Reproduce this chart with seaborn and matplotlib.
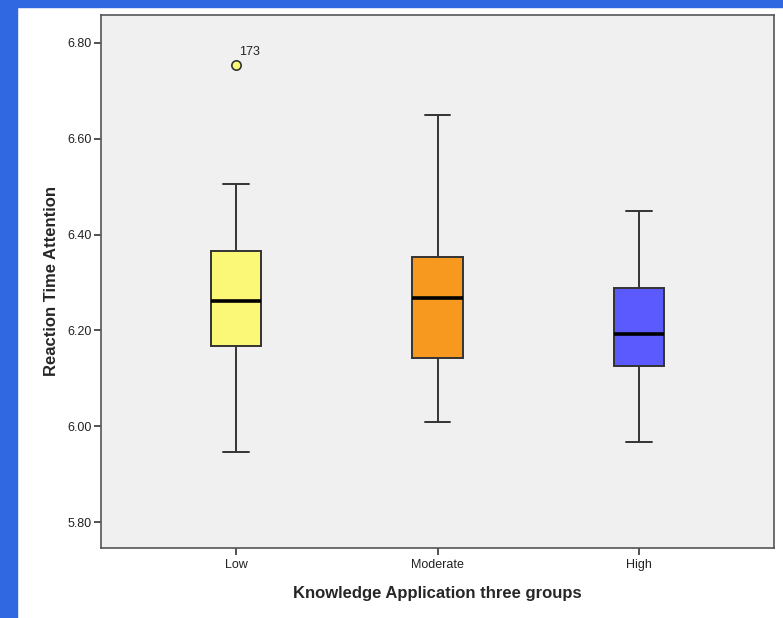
import numpy as np
import pandas as pd
import matplotlib
matplotlib.use("Agg")
import matplotlib.pyplot as plt
from matplotlib.patches import Rectangle
import seaborn as sns

# Groupes et statistiques
groups = ["Low", "Moderate", "High"]
whisker_low = [5.946, 6.009, 5.967]
q1 = [6.167, 6.142, 6.126]
median = [6.261, 6.268, 6.193]
q3 = [6.366, 6.353, 6.289]
whisker_high = [6.506, 6.650, 6.449]
colors = ["#FBF878", "#F7991F", "#5A5AFF"]

outlier_group = ["Low"]
outlier_value = [6.754]
outlier_label = ["173"]

yticks = [5.80, 6.00, 6.20, 6.40, 6.60, 6.80]

rows = []
for i, g in enumerate(groups):
    for v in [whisker_low[i], q1[i], median[i], q3[i], whisker_high[i]]:
        rows.append({"group": g, "rt": v})
df = pd.DataFrame(rows)
df_out = pd.DataFrame({"group": outlier_group, "rt": outlier_value})

sns.set_style("ticks")
plt.rcParams["font.family"] = ["Liberation Sans", "DejaVu Sans"]

fig = plt.figure(figsize=(7.83, 6.18), dpi=100)
fig.patches.append(Rectangle((0, 0), 17 / 783, 1, transform=fig.transFigure,
                             color="#2F68E0", zorder=0))
fig.patches.append(Rectangle((0, 1 - 7 / 618), 1, 7 / 618, transform=fig.transFigure,
                             color="#2F68E0", zorder=0))

ax = fig.add_axes([101 / 783, 1 - 548 / 618, 673 / 783, 533 / 618])
ax.set_facecolor("#F0F0F0")

sns.boxplot(data=df, x="group", y="rt", hue="group", order=groups,
            hue_order=groups, palette=colors, saturation=1, legend=False,
            width=0.25, whis=(0, 100), linewidth=1.4, linecolor="#333333",
            medianprops={"color": "black", "linewidth": 2.6},
            ax=ax)

sns.scatterplot(data=df_out, x="group", y="rt", ax=ax, s=45,
                color=colors[0], edgecolor="#333333", linewidth=1.2, zorder=5)
for g, v, lab in zip(outlier_group, outlier_value, outlier_label):
    xi = groups.index(g)
    ax.annotate(lab, (xi, v), xytext=(2, 7), textcoords="offset points",
                fontsize=9, color="#222222")

ax.set_xlim(-0.67, 2.67)
ax.set_ylim(5.746, 6.858)
ax.set_yticks(yticks)
ax.set_yticklabels([f"{t:.2f}" for t in yticks])

for s in ax.spines.values():
    s.set_visible(True)
    s.set_color("#555555")
    s.set_linewidth(1.2)
ax.tick_params(axis="both", direction="out", length=5, width=1.2,
               left=True, bottom=True, color="#333333", labelsize=9,
               labelcolor="#222222")
ax.tick_params(axis="y", pad=2)
ax.tick_params(axis="x", pad=3)

ax.set_xlabel("Knowledge Application three groups", fontsize=12,
              fontweight="bold", labelpad=11)
ax.set_ylabel("Reaction Time Attention", fontsize=12, fontweight="bold",
              labelpad=6)

fig.savefig("out.png", dpi=100, facecolor="white")
